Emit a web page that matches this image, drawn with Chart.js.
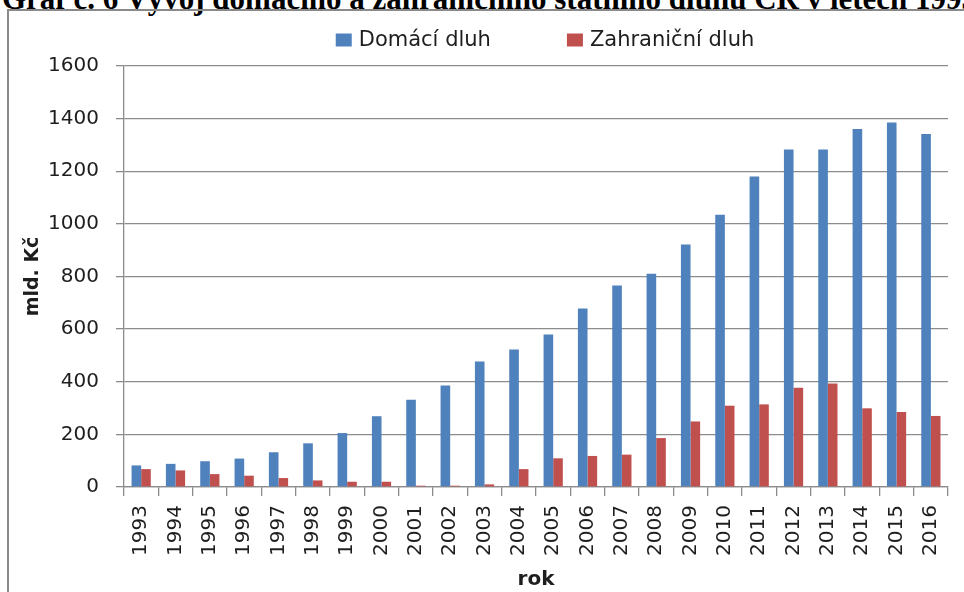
<!DOCTYPE html>
<html>
<head>
<meta charset="utf-8">
<script src="https://cdn.jsdelivr.net/npm/chart.js@4"></script>
<style>
  html, body { margin: 0; padding: 0; background: #fff; overflow: hidden; }
  #wrap { position: relative; width: 964px; height: 592px; overflow: hidden; }
  #title { position: absolute; left: 2px; top: -17px; font: bold 31px "Liberation Serif", serif; line-height: 31px; white-space: nowrap; color: #000; }
  #frame { position: absolute; left: 7px; top: 9px; width: 1100px; height: 800px; border: 2.5px solid #8a8a8a; box-sizing: border-box; }
  #c { position: absolute; left: 0; top: 0; }
</style>
</head>
<body>
<div id="wrap">
  <div id="title">Graf č. 6 Vývoj domácího a zahraničního státního dluhu ČR v letech 1993–2016</div>
  <div id="frame"></div>
  <canvas id="c" width="964" height="592"></canvas>
</div>
<script>
const years = ["1993","1994","1995","1996","1997","1998","1999","2000","2001","2002","2003","2004","2005","2006","2007","2008","2009","2010","2011","2012","2013","2014","2015","2016"];
const domesticDebt = [82, 88, 98, 108, 132, 166, 205, 269, 332, 386, 477, 523, 580, 678, 766, 810, 922, 1035, 1180, 1283, 1283, 1361, 1385, 1342];
const foreignDebt = [68, 63, 49, 43, 34, 25, 20, 20, 5, 5, 10, 68, 109, 118, 123, 186, 249, 309, 314, 377, 393, 299, 285, 270];
const seriesNames = ["Domácí dluh", "Zahraniční dluh"];
const yTicks = [0, 200, 400, 600, 800, 1000, 1200, 1400, 1600];
const yTitle = "mld. Kč";
const xTitle = "rok";

const gridColor = "#8c8c8c";
const textColor = "#1e1e1e";

const legendPlugin = {
  id: "customLegend",
  afterDraw(chart) {
    const ctx = chart.ctx;
    ctx.save();
    ctx.font = '21px "DejaVu Sans"';
    ctx.textBaseline = "middle";
    ctx.textAlign = "left";
    const boxW = 16, boxH = 13, gap = 7, itemGap = 76;
    const ds = chart.data.datasets;
    const widths = ds.map(d => ctx.measureText(d.label).width);
    const total = ds.reduce((s, d, i) => s + boxW + gap + widths[i], 0) + itemGap * (ds.length - 1);
    let x = 545 - total / 2;
    const cy = 40;
    ds.forEach((d, i) => {
      ctx.fillStyle = d.backgroundColor;
      ctx.fillRect(x, cy - boxH / 2, boxW, boxH);
      x += boxW + gap;
      ctx.fillStyle = textColor;
      ctx.fillText(d.label, x, cy + 1);
      x += widths[i] + itemGap;
    });
    ctx.restore();
  }
};

new Chart(document.getElementById("c"), {
  type: "bar",
  data: {
    labels: years,
    datasets: [
      { label: seriesNames[0], data: domesticDebt, backgroundColor: "#4f81bd", borderWidth: 0 },
      { label: seriesNames[1], data: foreignDebt, backgroundColor: "#c0504d", borderWidth: 0 }
    ]
  },
  options: {
    responsive: false,
    animation: false,
    devicePixelRatio: 1,
    layout: { padding: { left: 14, top: 66, right: 6, bottom: 0 } },
    plugins: { legend: { display: false }, tooltip: { enabled: false }, title: { display: false } },
    datasets: { bar: { categoryPercentage: 0.56, barPercentage: 1.0 } },
    scales: {
      x: {
        afterFit(s) { s.height = 105; },
        grid: { offset: true, drawOnChartArea: false, drawTicks: true, tickLength: 9, color: gridColor, lineWidth: 1.3 },
        border: { display: true, color: gridColor, width: 1.3 },
        ticks: { autoSkip: false, maxRotation: 90, minRotation: 90, padding: 9, color: textColor, font: { family: "DejaVu Sans", size: 20 } },
        title: { display: true, text: xTitle, color: textColor, padding: { top: 0, bottom: 0 }, font: { family: "DejaVu Sans", size: 20, weight: "bold" } }
      },
      y: {
        min: 0, max: 1600,
        afterFit(s) { s.width = 110; },
        afterBuildTicks(s) { s.ticks = yTicks.map(v => ({ value: v })); },
        grid: { drawTicks: true, tickLength: 8, color: gridColor, lineWidth: 1.3 },
        border: { display: true, color: gridColor, width: 1.3 },
        ticks: { padding: 17, color: textColor, font: { family: "DejaVu Sans", size: 20 }, callback: v => String(v) },
        title: { display: true, text: yTitle, color: textColor, padding: { top: 8, bottom: 0 }, font: { family: "DejaVu Sans", size: 19, weight: "bold" } }
      }
    }
  },
  plugins: [legendPlugin]
});
</script>
</body>
</html>
